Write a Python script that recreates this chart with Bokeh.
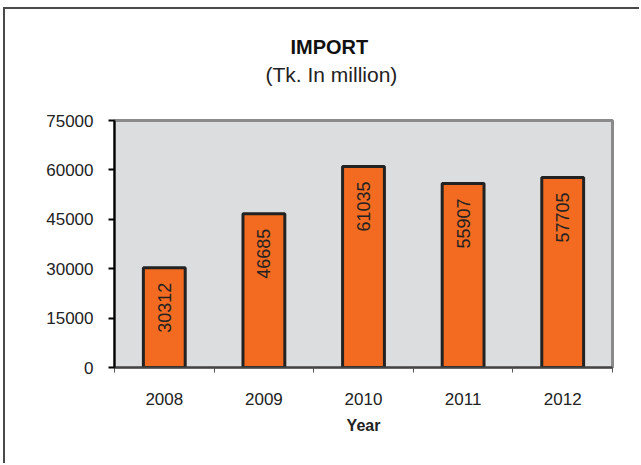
import math
from bokeh.plotting import figure
from bokeh.models import ColumnDataSource, FixedTicker, Title, Range1d
from bokeh.core.properties import value
from bokeh.embed import file_html
from bokeh.resources import INLINE

years = ["2008", "2009", "2010", "2011", "2012"]
imports = [30312, 46685, 61035, 55907, 57705]
y_ticks = [0, 15000, 30000, 45000, 60000, 75000]

FONT = "Liberation Sans"
positions = list(range(1, len(years) + 1))
src = ColumnDataSource(dict(x=positions, top=imports, label=[str(v) for v in imports]))

p = figure(width=636, height=456, output_backend="svg", toolbar_location=None, title=None,
           x_range=Range1d(0.5, len(years) + 0.5), y_range=Range1d(0, 75000),
           min_border_left=109, min_border_right=29, min_border_top=111, min_border_bottom=98,
           styles={"border-left": "2px solid #4a4a4a", "border-top": "2px solid #4a4a4a",
                   "margin-left": "3px", "margin-top": "7px"})
p.background_fill_color = "#DCDDDF"
p.border_fill_color = "white"
p.outline_line_color = "#8a8a8a"
p.outline_line_width = 3
p.xgrid.visible = False
p.ygrid.visible = False

p.vbar(x="x", top="top", width=0.42, bottom=0, source=src,
       fill_color="#F26B21", line_color="#222222", line_width=3)

p.text(x="x", y="top", text="label", source=src, angle=math.pi / 2,
       text_align="right", text_baseline="middle", y_offset=15,
       text_font=value(FONT), text_font_size="18px", text_color="#222222")

# y axis
p.yaxis.ticker = FixedTicker(ticks=y_ticks)
p.yaxis.axis_line_color = "black"
p.yaxis.axis_line_width = 2
p.yaxis.major_tick_line_color = "black"
p.yaxis.major_tick_line_width = 2
p.yaxis.major_tick_out = 6
p.yaxis.major_tick_in = 0
p.yaxis.minor_tick_line_color = None
p.yaxis.major_label_text_font = FONT
p.yaxis.major_label_text_font_size = "17px"
p.yaxis.major_label_text_color = "#222222"
p.yaxis.major_label_standoff = 15

# x axis
p.xaxis.ticker = FixedTicker(ticks=positions, minor_ticks=[i + 0.5 for i in range(0, len(years) + 1)])
p.xaxis.major_label_overrides = {i: y for i, y in zip(positions, years)}
p.xaxis.axis_line_color = "#444444"
p.xaxis.axis_line_width = 2
p.xaxis.major_tick_line_color = None
p.xaxis.minor_tick_line_color = "#555555"
p.xaxis.minor_tick_out = 5
p.xaxis.minor_tick_in = 0
p.xaxis.major_label_text_font = FONT
p.xaxis.major_label_text_font_size = "17px"
p.xaxis.major_label_text_color = "#222222"
p.xaxis.major_label_standoff = 19
p.xaxis.axis_label = "Year"
p.xaxis.axis_label_text_font = FONT
p.xaxis.axis_label_text_font_style = "bold"
p.xaxis.axis_label_text_font_size = "16px"
p.xaxis.axis_label_text_color = "#222222"
p.xaxis.axis_label_standoff = 9

# spacer, subtitle and title (stacked upward from the frame)
p.add_layout(Title(text=" ", text_font_size="29px", standoff=0), "above")
p.add_layout(Title(text="(Tk. In million)", align="left", offset=151, text_font=FONT,
                   text_font_style="normal", text_font_size="21px", text_color="#222222",
                   standoff=2), "above")
p.add_layout(Title(text="IMPORT", align="left", offset=176, text_font=FONT,
                   text_font_style="bold", text_font_size="20px", text_color="#111111",
                   standoff=3), "above")

open("out.html", "w").write(file_html(p, INLINE))
